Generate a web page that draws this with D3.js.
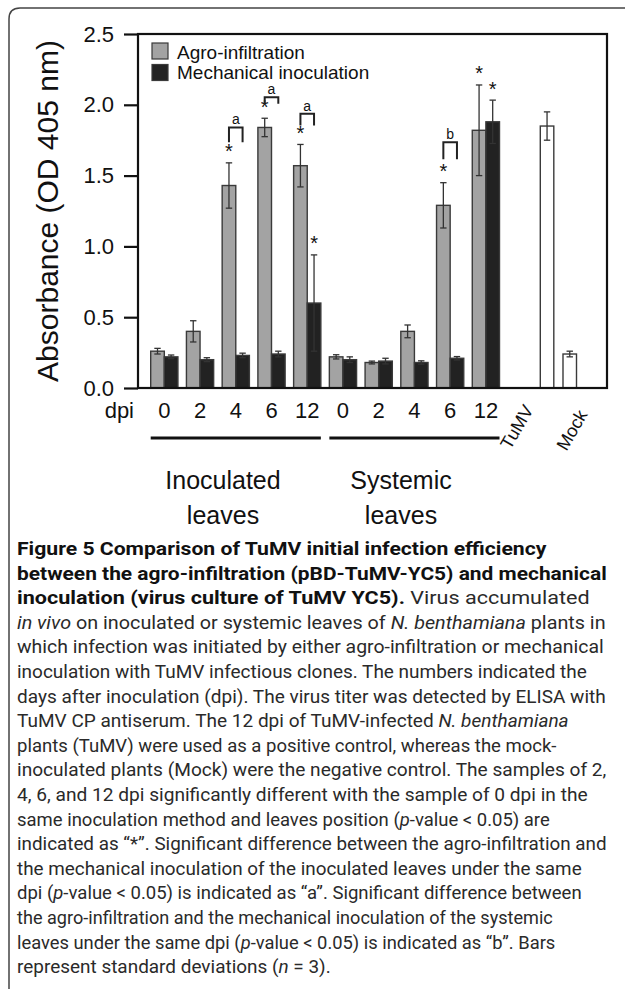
<!DOCTYPE html>
<html><head><meta charset="utf-8">
<script src="https://cdn.jsdelivr.net/npm/d3@7"></script>
<style>
html,body{margin:0;padding:0;background:#fff;}
svg{display:block;}
</style></head>
<body>
<script>
// ---------- data ----------
const groupIds   = ["I0","I2","I4","I6","I12","S0","S2","S4","S6","S12"];
const dpiLabels  = ["0","2","4","6","12","0","2","4","6","12"];
const agroValues = [0.26,0.40,1.43,1.84,1.57,0.22,0.18,0.40,1.29,1.82];
const agroSD     = [0.02,0.075,0.16,0.065,0.15,0.015,0.01,0.045,0.16,0.32];
const mechValues = [0.22,0.20,0.23,0.24,0.60,0.20,0.19,0.18,0.21,1.88];
const mechSD     = [0.013,0.014,0.016,0.02,0.34,0.02,0.02,0.012,0.012,0.153];
const agroStar   = [0,0,1,1,1,0,0,0,1,1];
const mechStar   = [0,0,0,0,1,0,0,0,0,1];
const pairLetter = ["","","a","a","a","","","","b",""];
const pairTop    = [0,0,1.84,2.053,1.936,0,0,0,1.735,0];
const pairLegEnd = [0,0,1.735,2.008,1.853,0,0,0,1.615,0];
const controlNames  = ["TuMV","Mock"];
const controlValues = [1.85,0.24];
const controlSD     = [0.10,0.02];
const yTicks = [0,0.5,1.0,1.5,2.0,2.5];
const seriesNames = ["Agro-infiltration","Mechanical inoculation"];
const groupNames = [["Inoculated","leaves"],["Systemic","leaves"]];

const captionLines = [
  [["b","Figure 5 Comparison of TuMV initial infection efficiency"]],
  [["b","between the agro-infiltration (pBD-TuMV-YC5) and mechanical"]],
  [["b","inoculation (virus culture of TuMV YC5)."],["r"," Virus accumulated"]],
  [["i","in vivo"],["r"," on inoculated or systemic leaves of "],["i","N. benthamiana"],["r"," plants in"]],
  [["r","which infection was initiated by either agro-infiltration or mechanical"]],
  [["r","inoculation with TuMV infectious clones. The numbers indicated the"]],
  [["r","days after inoculation (dpi). The virus titer was detected by ELISA with"]],
  [["r","TuMV CP antiserum. The 12 dpi of TuMV-infected "],["i","N. benthamiana"]],
  [["r","plants (TuMV) were used as a positive control, whereas the mock-"]],
  [["r","inoculated plants (Mock) were the negative control. The samples of 2,"]],
  [["r","4, 6, and 12 dpi significantly different with the sample of 0 dpi in the"]],
  [["r","same inoculation method and leaves position ("],["i","p"],["r","-value < 0.05) are"]],
  [["r","indicated as \u201c*\u201d. Significant difference between the agro-infiltration and"]],
  [["r","the mechanical inoculation of the inoculated leaves under the same"]],
  [["r","dpi ("],["i","p"],["r","-value < 0.05) is indicated as \u201ca\u201d. Significant difference between"]],
  [["r","the agro-infiltration and the mechanical inoculation of the systemic"]],
  [["r","leaves under the same dpi ("],["i","p"],["r","-value < 0.05) is indicated as \u201cb\u201d. Bars"]],
  [["r","represent standard deviations ("],["i","n"],["r"," = 3)."]]
];
const captionEnds = [548,607,590,606,604,587,606,569,557,607,588,550,607,582,582,553,556,331];

// ---------- layout ----------
const W = 625, H = 989;
const plot = {l:138, r:607, t:34, b:388};
const GRAY = "#a3a3a3", DARK = "#222222", LINE = "#333333";
const FONT = "'Liberation Sans', Arial, Helvetica, sans-serif";

const svg = d3.select("body").append("svg").attr("width",W).attr("height",H);

// outer frame
svg.append("path")
  .attr("d","M9,992 L9,19 Q9,8 20,8 L630,8")
  .attr("fill","none").attr("stroke","#444").attr("stroke-width",1.5);

const y = d3.scaleLinear().domain([0,2.5]).range([plot.b, plot.t]);
const x = d3.scaleBand().domain(groupIds).range([146.45,503.75])
  .paddingInner(0.238).paddingOuter(0.119);
const xs = d3.scaleBand().domain(["agro","mech"]).range([0,x.bandwidth()]);
const xc = d3.scaleBand().domain(controlNames).range([535.7,581.1])
  .paddingInner(0.405).paddingOuter(0.2025);

// y axis
const yAxis = d3.axisLeft(y).tickValues(yTicks).tickFormat(d3.format(".1f"))
  .tickSize(14).tickPadding(10);
const gy = svg.append("g").attr("transform",`translate(${plot.l},0)`).call(yAxis);
gy.select(".domain").remove();
gy.selectAll(".tick line").attr("stroke","#111").attr("stroke-width",2.2);
gy.selectAll(".tick text").attr("font-family",FONT).attr("font-size",22).attr("fill","#111");

// y title
svg.append("text")
  .attr("transform",`translate(58,${(plot.t+plot.b)/2}) rotate(-90)`)
  .attr("text-anchor","middle").attr("font-family",FONT).attr("font-size",30)
  .attr("fill","#111").text("Absorbance (OD 405 nm)");

// bars
const bars = svg.append("g");
function errBar(g, cx, v, sd){
  const cap = 3.2;
  g.append("line").attr("x1",cx).attr("x2",cx).attr("y1",y(v+sd)).attr("y2",y(v-sd))
    .attr("stroke",LINE).attr("stroke-width",1.3);
  [v+sd, v-sd].forEach(e=>{
    g.append("line").attr("x1",cx-cap).attr("x2",cx+cap).attr("y1",y(e)).attr("y2",y(e))
      .attr("stroke",LINE).attr("stroke-width",1.3);
  });
}
function star(g, cx, topPx){
  g.append("text").attr("x",cx).attr("y",topPx+3.4).attr("text-anchor","middle")
    .attr("font-family",FONT).attr("font-size",20).attr("fill","#111").text("*");
}
groupIds.forEach((id,i)=>{
  const series = [
    {k:"agro", v:agroValues[i], sd:agroSD[i], fill:GRAY, s:agroStar[i]},
    {k:"mech", v:mechValues[i], sd:mechSD[i], fill:DARK, s:mechStar[i]}
  ];
  series.forEach(d=>{
    const bx = x(id)+xs(d.k);
    bars.append("rect").attr("x",bx).attr("y",y(d.v))
      .attr("width",xs.bandwidth()).attr("height",y(0)-y(d.v))
      .attr("fill",d.fill).attr("stroke","#3a3a3a").attr("stroke-width",1.4);
    const cx = bx + xs.bandwidth()/2;
    errBar(bars, cx, d.v, d.sd);
    if(d.s) star(bars, cx, y(d.v+d.sd)-8);
  });
  if(pairLetter[i]){
    const c1 = x(id)+xs("agro")+xs.bandwidth()/2;
    const c2 = x(id)+xs("mech")+xs.bandwidth()/2;
    const t = y(pairTop[i]), bt = y(pairLegEnd[i]);
    bars.append("path").attr("d",`M${c1},${bt} L${c1},${t} L${c2},${t} L${c2},${bt}`)
      .attr("fill","none").attr("stroke","#222").attr("stroke-width",2);
    bars.append("text").attr("x",(c1+c2)/2).attr("y",t-3).attr("text-anchor","middle")
      .attr("font-family",FONT).attr("font-size",14).attr("fill","#111").text(pairLetter[i]);
  }
});
controlNames.forEach((c,i)=>{
  bars.append("rect").attr("x",xc(c)).attr("y",y(controlValues[i]))
    .attr("width",xc.bandwidth()).attr("height",y(0)-y(controlValues[i]))
    .attr("fill","#fff").attr("stroke","#3a3a3a").attr("stroke-width",1.4);
  errBar(bars, xc(c)+xc.bandwidth()/2, controlValues[i], controlSD[i]);
});

// plot frame
svg.append("rect").attr("x",plot.l).attr("y",plot.t)
  .attr("width",plot.r-plot.l).attr("height",plot.b-plot.t)
  .attr("fill","none").attr("stroke","#111").attr("stroke-width",2.2);

// legend
const leg = svg.append("g");
[GRAY,DARK].forEach((f,i)=>{
  leg.append("rect").attr("x",152).attr("y",43+i*21.5).attr("width",16).attr("height",16)
    .attr("fill",f).attr("stroke","#3a3a3a").attr("stroke-width",1.2);
  leg.append("text").attr("x",177).attr("y",58.5+i*20.5).attr("font-family",FONT)
    .attr("font-size",19).attr("fill","#111").text(seriesNames[i]);
});

// x labels
const xl = svg.append("g").attr("font-family",FONT).attr("fill","#111");
xl.append("text").attr("x",134).attr("y",418).attr("text-anchor","end")
  .attr("font-size",22).text("dpi");
groupIds.forEach((id,i)=>{
  xl.append("text").attr("x",x(id)+x.bandwidth()/2).attr("y",418)
    .attr("text-anchor","middle").attr("font-size",22).text(dpiLabels[i]);
});
// group underlines and names
[[0,4],[5,9]].forEach(([a,b],k)=>{
  svg.append("line").attr("x1",x(groupIds[a])).attr("x2",x(groupIds[b])+x.bandwidth())
    .attr("y1",438).attr("y2",438).attr("stroke","#111").attr("stroke-width",3);
  const cx = k===0 ? 223 : 401;
  groupNames[k].forEach((t,j)=>{
    xl.append("text").attr("x",cx).attr("y",489+j*35).attr("text-anchor","middle")
      .attr("font-size",25).text(t);
  });
});
// control labels
[[534,409.5],[588,414.5]].forEach((p,i)=>{
  xl.append("text").attr("transform",`translate(${p[0]},${p[1]}) rotate(-60)`)
    .attr("text-anchor","end").attr("font-size",18).text(controlNames[i]);
});

// caption
const cap = svg.append("g").attr("fill","#2a2a2a");
captionLines.forEach((segs,i)=>{
  const t = cap.append("text").attr("x",0).attr("y",0)
    .attr("font-family","Roboto, 'Open Sans', sans-serif").attr("font-size",18);
  segs.forEach(([s,str])=>{
    const ts = t.append("tspan").text(str);
    if(s==="b") ts.attr("font-weight","bold").attr("fill","#111");
    if(s==="i") ts.attr("font-style","italic");
  });
  const natural = t.node().getBBox().width;
  const k = (captionEnds[i]-17)/natural;
  t.attr("transform",`translate(17,${555+i*24.6}) scale(${k.toFixed(4)},1)`);
});
</script>
</body></html>
